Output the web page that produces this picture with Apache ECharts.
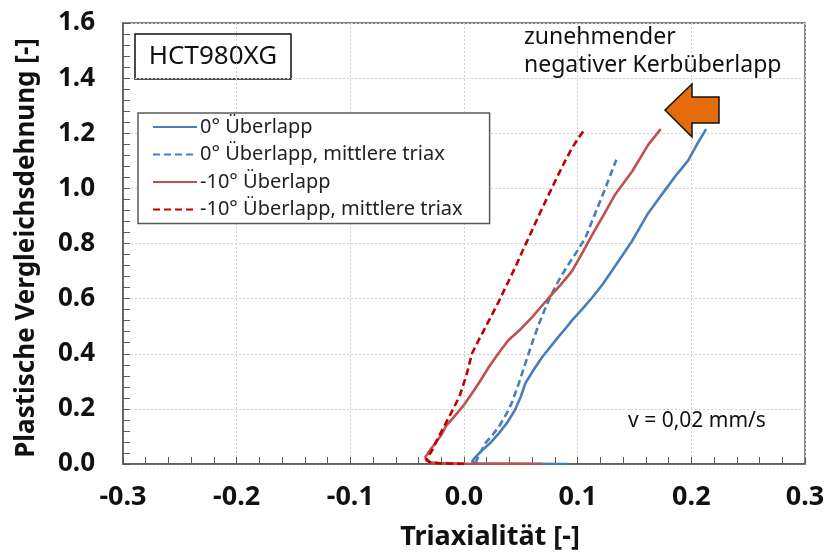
<!DOCTYPE html>
<html>
<head>
<meta charset="utf-8">
<script src="https://cdn.jsdelivr.net/npm/echarts@6/dist/echarts.min.js"></script>
<style>
  html, body { margin: 0; padding: 0; background: #fff; }
  #chart { width: 828px; height: 556px; }
</style>
</head>
<body>
<div id="chart"></div>
<script>
// Triaxiality vs. equivalent plastic strain, HCT980XG, two notch overlaps
const seriesNames = [
  '0° Überlapp',
  '0° Überlapp, mittlere triax',
  '-10° Überlapp',
  '-10° Überlapp, mittlere triax'
];

// [triaxiality, plastic equivalent strain]
const overlap0 = [
  [0.092, 0.000], [0.060, 0.001], [0.030, 0.001], [0.012, 0.002], [0.007, 0.008],
  [0.009, 0.020], [0.016, 0.050], [0.024, 0.080], [0.031, 0.113], [0.038, 0.150],
  [0.045, 0.197], [0.050, 0.245], [0.054, 0.293], [0.061, 0.340], [0.069, 0.389],
  [0.076, 0.425], [0.083, 0.461], [0.089, 0.490], [0.095, 0.521], [0.104, 0.562],
  [0.113, 0.605], [0.122, 0.652], [0.130, 0.700], [0.139, 0.755], [0.148, 0.810],
  [0.155, 0.860], [0.162, 0.910], [0.170, 0.955], [0.178, 1.000], [0.187, 1.050],
  [0.197, 1.100], [0.205, 1.160], [0.213, 1.215]
];

const overlap0Mean = [
  [0.010, 0.003], [0.013, 0.030], [0.019, 0.077], [0.025, 0.105], [0.031, 0.137],
  [0.037, 0.180], [0.042, 0.221], [0.048, 0.290], [0.054, 0.365], [0.060, 0.440],
  [0.066, 0.509], [0.073, 0.580], [0.080, 0.641], [0.086, 0.685], [0.092, 0.725],
  [0.100, 0.775], [0.107, 0.822], [0.114, 0.895], [0.121, 0.966], [0.128, 1.040],
  [0.134, 1.104]
];

const overlapMinus10 = [
  [0.069, 0.000], [0.040, 0.001], [0.000, 0.002], [-0.020, 0.003], [-0.028, 0.005],
  [-0.033, 0.012], [-0.034, 0.025], [-0.030, 0.050], [-0.025, 0.077], [-0.020, 0.105],
  [-0.016, 0.137], [-0.009, 0.170], [-0.001, 0.209], [0.006, 0.250], [0.013, 0.293],
  [0.022, 0.353], [0.030, 0.400], [0.039, 0.449], [0.050, 0.490], [0.060, 0.533],
  [0.075, 0.605], [0.085, 0.650], [0.095, 0.700], [0.104, 0.765], [0.113, 0.833],
  [0.123, 0.905], [0.133, 0.978], [0.148, 1.062], [0.155, 1.110], [0.162, 1.158],
  [0.173, 1.215]
];

const overlapMinus10Mean = [
  [0.000, 0.000], [-0.020, 0.002], [-0.030, 0.006], [-0.033, 0.018], [-0.028, 0.050],
  [-0.024, 0.085], [-0.019, 0.125], [-0.012, 0.180], [-0.004, 0.245], [0.002, 0.320],
  [0.007, 0.401], [0.013, 0.450], [0.019, 0.497], [0.025, 0.545], [0.031, 0.593],
  [0.038, 0.653], [0.045, 0.713], [0.051, 0.768], [0.057, 0.822], [0.063, 0.876],
  [0.069, 0.930], [0.076, 0.990], [0.083, 1.050], [0.089, 1.100], [0.095, 1.146],
  [0.101, 1.185], [0.107, 1.218]
];

const seriesData = [overlap0, overlap0Mean, overlapMinus10, overlapMinus10Mean];
const seriesColors = ['#4a7ebb', '#4a7ebb', '#c0504d', '#c00000'];
const seriesDashed = [false, true, false, true];

const FONT = '"Noto Sans", "Open Sans", sans-serif';
const AXIS = '#595959';

const chart = echarts.init(document.getElementById('chart'), null, { renderer: 'canvas' });

const option = {
  animation: false,
  backgroundColor: '#ffffff',
  grid: {
    left: 123, right: 23, top: 23, bottom: 88,
    show: true, borderColor: AXIS, borderWidth: 1.5, backgroundColor: 'transparent'
  },
  xAxis: {
    type: 'value', min: -0.3, max: 0.3, interval: 0.1,
    name: 'Triaxialität [-]', nameLocation: 'middle', nameGap: 60,
    nameTextStyle: { fontFamily: FONT, fontWeight: 'bold', fontSize: 27, color: '#111',
                     padding: [0, 0, 0, 52] },
    axisLine: { show: true, onZero: false, lineStyle: { color: AXIS, width: 1.5 } },
    axisTick: { show: true, inside: true, length: 7, lineStyle: { color: AXIS, width: 1 } },
    minorTick: { show: true, splitNumber: 5, length: 7, lineStyle: { color: AXIS, width: 1 } },
    axisLabel: {
      margin: 20, fontFamily: FONT, fontWeight: 'bold', fontSize: 27, color: '#111',
      formatter: v => v.toFixed(1)
    },
    splitLine: { show: true, lineStyle: { color: '#d0d0d0', type: [2, 2], width: 1 } }
  },
  yAxis: {
    type: 'value', min: 0, max: 1.6, interval: 0.2,
    name: 'Plastische Vergleichsdehnung [-]', nameLocation: 'middle', nameGap: 83,
    nameTextStyle: { fontFamily: FONT, fontWeight: 'bold', fontSize: 26, color: '#111',
                     padding: [0, 9, 0, 0] },
    axisLine: { show: true, onZero: false, lineStyle: { color: AXIS, width: 1.5 } },
    axisTick: { show: true, inside: true, length: 7, lineStyle: { color: AXIS, width: 1 } },
    minorTick: { show: true, splitNumber: 5, length: 7, lineStyle: { color: AXIS, width: 1 } },
    axisLabel: {
      margin: 28, fontFamily: FONT, fontWeight: 'bold', fontSize: 26, color: '#111',
      formatter: v => v.toFixed(1)
    },
    splitLine: { show: true, lineStyle: { color: '#d0d0d0', type: [2, 2], width: 1 } }
  },
  legend: {
    show: true, orient: 'vertical', left: 138, top: 113,
    padding: [4, 27, 4, 14], itemGap: 7.5, itemWidth: 44, itemHeight: 14,
    borderColor: AXIS, borderWidth: 1.5, backgroundColor: '#fff',
    itemStyle: { opacity: 0, borderWidth: 0 },
    textStyle: { fontFamily: FONT, fontSize: 20, lineHeight: 20, color: '#222', padding: [0, 0, 0, -2] },
    data: seriesNames
  },
  series: seriesNames.map((name, i) => ({
    name, type: 'line', data: seriesData[i],
    showSymbol: false, symbol: 'none', smooth: false, z: 3 + i,
    lineStyle: { color: seriesColors[i], width: 2.6, type: seriesDashed[i] ? [7, 4] : 'solid' },
    itemStyle: { color: seriesColors[i] }
  })),
  graphic: [
    {
      type: 'group', z: 10,
      children: [
        { type: 'rect', shape: { x: 135, y: 34, width: 156, height: 45 },
          style: { fill: '#fff', stroke: '#111', lineWidth: 1.5 } },
        { type: 'text', x: 213, y: 57,
          style: { text: 'HCT980XG', fontFamily: FONT, fontSize: 26, fill: '#111',
                   align: 'center', verticalAlign: 'middle' } }
      ]
    },
    {
      type: 'text', x: 524, y: 23, z: 10,
      style: { text: 'zunehmender\nnegativer Kerbüberlapp', fontFamily: FONT, fontSize: 23,
               lineHeight: 28, fill: '#111', align: 'left', verticalAlign: 'top' }
    },
    {
      type: 'polygon', z: 10,
      shape: { points: [[665, 110], [692, 84], [692, 97], [719, 97], [719, 123], [692, 123], [692, 137]] },
      style: { fill: '#e46c0a', stroke: '#111', lineWidth: 1.5 }
    },
    {
      type: 'group', z: 1,
      children: [
        { type: 'rect', shape: { x: 606, y: 398, width: 184, height: 46 },
          style: { fill: '#fff' } },
        { type: 'text', x: 697, y: 421,
          style: { text: 'v = 0,02 mm/s', fontFamily: FONT, fontSize: 21, fill: '#111',
                   align: 'center', verticalAlign: 'middle' } }
      ]
    }
  ]
};

chart.setOption(option);
</script>
</body>
</html>
